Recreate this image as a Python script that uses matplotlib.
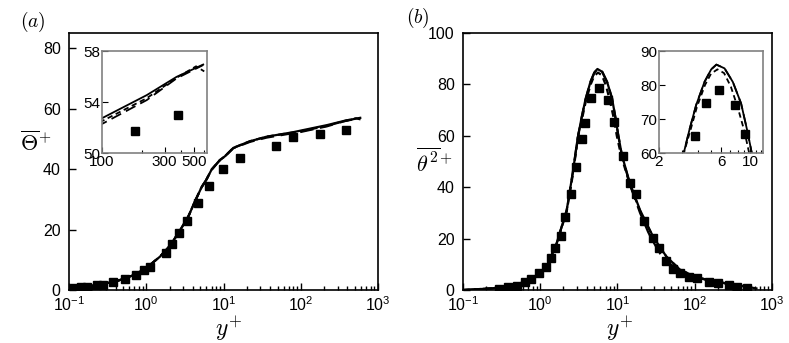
import matplotlib
matplotlib.use("Agg")
import matplotlib.pyplot as plt
from matplotlib.ticker import FixedLocator, FixedFormatter, NullFormatter, LogLocator

plt.rcParams["font.family"] = ["Liberation Sans", "DejaVu Sans"]
plt.rcParams["mathtext.fontset"] = "custom"
plt.rcParams["mathtext.rm"] = "Liberation Sans"
plt.rcParams["mathtext.it"] = "Liberation Sans:italic"
plt.rcParams["mathtext.bf"] = "Liberation Sans:bold"

# ---- panel (a): mean temperature ----
ya_solid = [0.1, 0.2, 0.4, 0.7, 1.0, 1.5, 2.0, 2.6, 3.5, 4.3, 5.2, 6.0, 7.0, 9.0, 10.4, 13.4,
            22, 36, 80, 100, 219, 369, 589]
ta_solid = [0.7, 1.4, 2.8, 5.0, 7.3, 11.0, 14.5, 18.8, 24.3, 29.5, 34.0, 36.5, 39.8, 43.0, 44.2, 47.0,
            49.2, 50.7, 52.2, 52.73, 54.54, 55.97, 56.94]
ya_dash = [0.1, 0.2, 0.4, 0.7, 1.0, 1.5, 2.0, 2.6, 3.5, 4.3, 5.2, 6.0, 7.0, 9.0, 10.4, 13.4,
           22, 36, 80, 100, 219, 369, 589]
ta_dash = [0.7, 1.4, 2.8, 5.0, 7.3, 11.0, 14.5, 18.8, 24.3, 29.5, 34.0, 36.5, 39.8, 43.0, 44.2, 46.9,
           49.0, 50.4, 51.9, 52.28, 54.15, 55.85, 56.9]
ya_dot = [0.1, 0.2, 0.4, 0.7, 1.0, 1.5, 2.0, 2.6, 3.5, 4.3, 5.2, 6.0, 7.0, 9.0, 10.4, 13.4,
          22, 36, 80, 100, 219, 369, 520, 600]
ta_dot = [0.7, 1.4, 2.8, 5.0, 7.3, 11.0, 14.5, 18.8, 24.3, 29.5, 34.0, 36.5, 39.8, 43.0, 44.2, 47.0,
          49.2, 50.7, 52.1, 52.5, 54.3, 55.9, 56.8, 56.4]
ya_sq = [0.116, 0.143, 0.173, 0.228, 0.278, 0.374, 0.536, 0.74, 0.94, 1.12, 1.79, 2.16, 2.68, 3.34,
         4.72, 6.42, 9.8, 16.5, 48, 79, 178, 380]
ta_sq = [0.7, 0.9, 1.0, 1.5, 1.8, 2.5, 3.8, 4.8, 6.6, 7.7, 12.3, 15.3, 18.9, 22.7,
         28.7, 34.3, 40.0, 43.5, 47.6, 50.7, 51.7, 53.0]

# ---- panel (b): temperature variance ----
yb_solid = [0.1, 0.246, 0.55, 0.9, 1.21, 1.63, 2.2, 2.65, 3.05, 3.43, 3.85, 4.46, 5.02, 5.5, 6.35,
            7.35, 8.5, 9.55, 10.2, 11.4, 14.5, 19.6, 29, 43, 64, 105, 210, 470, 630]
tb_solid = [0.0, 0.66, 2.6, 5.2, 9.1, 18.2, 31.0, 46.0, 59.0, 67.0, 74.1, 80.9, 84.6, 86.0, 84.9,
            80.9, 74.6, 66.0, 60.5, 52.5, 41.5, 31.1, 20.7, 13.0, 8.0, 4.9, 3.0, 1.3, 0.6]
yb_dash = [0.1, 0.246, 0.55, 0.9, 1.21, 1.63, 2.2, 2.65, 3.05, 3.43, 3.85, 4.46, 5.02, 5.5, 6.35,
           7.35, 8.5, 9.55, 10.2, 11.4, 14.5, 19.6, 25, 29, 36, 43, 64, 105, 210, 470, 630]
tb_dash = [0.0, 0.66, 2.6, 5.2, 9.1, 18.2, 31.0, 46.0, 59.0, 67.0, 74.1, 80.9, 84.6, 86.0, 84.9,
           80.9, 74.6, 66.0, 60.5, 52.5, 41.0, 30.0, 22.5, 18.8, 14.0, 11.2, 7.5, 4.8, 3.0, 1.3, 0.6]
yb_dot = [0.1, 0.246, 0.55, 0.9, 1.21, 1.63, 2.2, 2.65, 3.1, 3.5, 3.9, 4.5, 5.0, 5.6, 6.3,
          7.1, 8.0, 9.0, 9.8, 11.2, 14.5, 19.6, 29, 43, 64, 105, 210, 470, 630]
tb_dot = [0.0, 0.66, 2.6, 5.2, 9.1, 18.0, 30.5, 45.0, 60.0, 67.0, 73.5, 80.0, 83.3, 84.6, 83.5,
          79.5, 73.5, 66.5, 60.0, 52.0, 41.0, 30.8, 20.5, 13.0, 8.0, 4.9, 3.0, 1.3, 0.6]
yb_sq = [0.296, 0.387, 0.495, 0.64, 0.77, 0.95, 1.18, 1.37, 1.57, 1.84, 2.1, 2.5, 2.92, 3.44,
         3.77, 4.57, 5.8, 7.6, 9.1, 11.7, 14.6, 17.3, 22, 28.9, 34.5, 42, 51.6, 65, 84, 107,
         153, 200, 274, 350, 474]
tb_sq = [0.3, 1.0, 1.7, 3.2, 4.2, 6.5, 9.1, 12.3, 16.2, 21.0, 28.3, 37.2, 48.0, 58.6,
         65.1, 74.6, 78.5, 74.1, 65.5, 52.1, 41.5, 37.3, 27.0, 20.1, 16.2, 11.4, 8.1, 6.5, 5.2, 4.5,
         3.2, 2.6, 1.9, 1.3, 0.7]


def draw(ax, ys, ts, yd, td, yo, to, ysq, tsq, lw):
    ax.plot(ys, ts, "-", color="black", lw=lw)
    ax.plot(yd, td, color="black", lw=lw, dashes=(6, 3))
    ax.plot(yo, to, color="black", lw=lw, dashes=(3, 2))
    ax.plot(ysq, tsq, "s", color="black", ms=6, ls="none")


def style_main(ax):
    ax.set_xscale("log")
    ax.set_xlim(0.1, 1000)
    ax.xaxis.set_major_locator(LogLocator(base=10, numticks=10))
    ax.xaxis.set_minor_locator(LogLocator(base=10, subs=range(2, 10), numticks=10))
    ax.tick_params(which="both", direction="in", top=False, right=False, labelsize=11.5, width=1)
    ax.tick_params(which="major", length=5)
    ax.tick_params(which="minor", length=3)
    ax.tick_params(axis="y", pad=6)
    ax.tick_params(axis="x", pad=4)
    for s in ax.spines.values():
        s.set_linewidth(1.2)


def style_inset(ax):
    ax.set_xscale("log")
    ax.tick_params(which="both", direction="in", top=False, right=False, labelsize=11,
                   width=0.8, pad=1.5)
    ax.tick_params(which="major", length=4)
    ax.tick_params(which="minor", length=2.5)
    for s in ax.spines.values():
        s.set_color("#808080")
        s.set_linewidth(1.2)


fig = plt.figure(figsize=(7.89, 3.43), dpi=100)

# (a)
ax1 = fig.add_axes([0.0875, 0.1545, 0.3916, 0.7493])
draw(ax1, ya_solid, ta_solid, ya_dash, ta_dash, ya_dot, ta_dot, ya_sq, ta_sq, 1.6)
style_main(ax1)
ax1.set_ylim(0, 85)
ax1.set_yticks([0, 20, 40, 60, 80])
ax1.set_xlabel(r"$y^{+}$", fontsize=17, math_fontfamily="cm", va="center")
ax1.xaxis.set_label_coords(0.515, -0.15)
ax1.set_ylabel(r"$\overline{\Theta}^{+}$", fontsize=16, math_fontfamily="cm",
               rotation=0, ha="center", va="center")
ax1.yaxis.set_label_coords(-0.107, 0.57)

in1 = fig.add_axes([0.1293, 0.5539, 0.1331, 0.2974])
draw(in1, ya_solid, ta_solid, ya_dash, ta_dash, ya_dot, ta_dot, ya_sq, ta_sq, 1.3)
style_inset(in1)
in1.set_xlim(100, 630)
in1.set_ylim(50, 58)
in1.xaxis.set_major_locator(FixedLocator([100, 300, 500]))
in1.xaxis.set_major_formatter(FixedFormatter(["100", "300", "500"]))
in1.xaxis.set_minor_locator(FixedLocator([200, 400, 600]))
in1.xaxis.set_minor_formatter(NullFormatter())
in1.set_yticks([50, 54, 58])

# (b)
ax2 = fig.add_axes([0.5868, 0.1545, 0.3916, 0.7493])
draw(ax2, yb_solid, tb_solid, yb_dash, tb_dash, yb_dot, tb_dot, yb_sq, tb_sq, 1.6)
style_main(ax2)
ax2.set_ylim(0, 100)
ax2.set_yticks([0, 20, 40, 60, 80, 100])
ax2.set_xlabel(r"$y^{+}$", fontsize=17, math_fontfamily="cm", va="center")
ax2.xaxis.set_label_coords(0.508, -0.15)
ax2.set_ylabel(r"$\overline{\theta^{2}}^{+}$", fontsize=16, math_fontfamily="cm",
               rotation=0, ha="center", va="center")
ax2.yaxis.set_label_coords(-0.094, 0.495)

in2 = fig.add_axes([0.8352, 0.5539, 0.1318, 0.2974])
draw(in2, yb_solid, tb_solid, yb_dash, tb_dash, yb_dot, tb_dot, yb_sq, tb_sq, 1.3)
style_inset(in2)
in2.set_xlim(2, 12.5)
in2.set_ylim(60, 90)
in2.xaxis.set_major_locator(FixedLocator([2, 6, 10]))
in2.xaxis.set_major_formatter(FixedFormatter(["2", "6", "10"]))
in2.xaxis.set_minor_locator(FixedLocator([3, 4, 5, 7, 8, 9, 11, 12]))
in2.xaxis.set_minor_formatter(NullFormatter())
in2.set_yticks([60, 70, 80, 90])

fig.text(33 / 789, 1 - 22 / 343, r"$(a)$", fontsize=14, math_fontfamily="cm",
         ha="center", va="center")
fig.text(418 / 789, 1 - 18 / 343, r"$(b)$", fontsize=14, math_fontfamily="cm",
         ha="center", va="center")

fig.savefig("out.png", dpi=100)
